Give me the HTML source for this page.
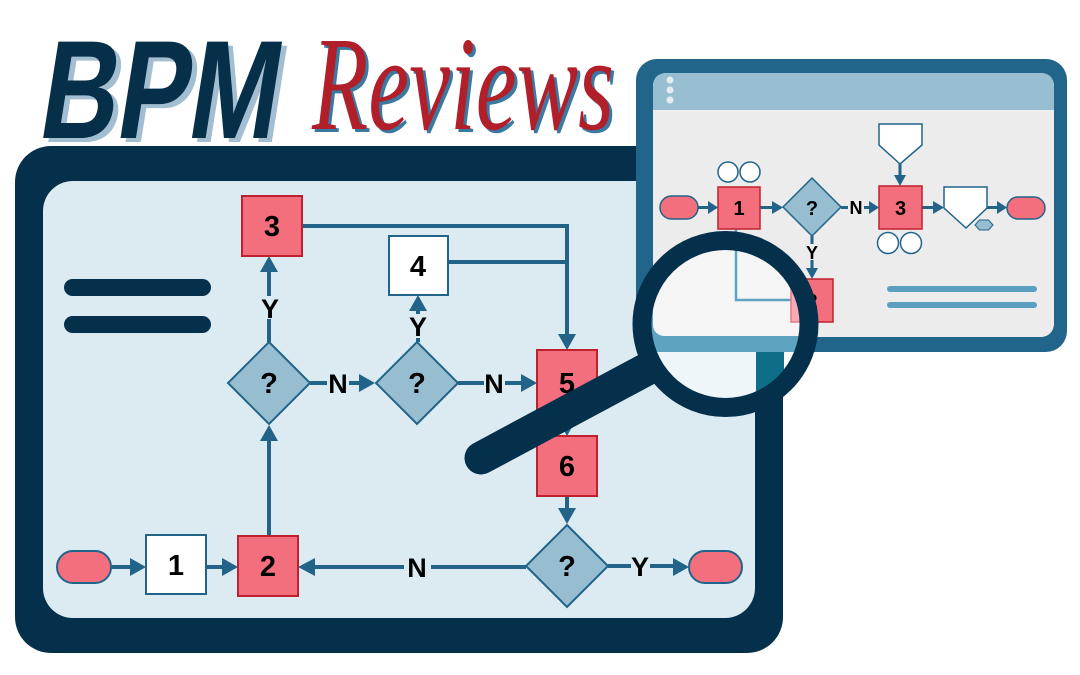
<!DOCTYPE html>
<html><head><meta charset="utf-8"><style>
html,body{margin:0;padding:0;background:#fff;}
svg{display:block;}
.b{font-family:"Liberation Sans",sans-serif;font-weight:bold;text-anchor:middle;fill:#000;}
.rv{font-family:"Liberation Serif",serif;font-style:italic;font-weight:normal;}
.bpm{font-family:"Liberation Sans",sans-serif;font-weight:bold;}
</style></head><body>
<svg width="1080" height="675" viewBox="0 0 1080 675" xmlns="http://www.w3.org/2000/svg">
<defs>
<clipPath id="lens"><circle cx="725.5" cy="324" r="75"/></clipPath>
</defs>
<rect width="1080" height="675" fill="#fff"/>

<!-- Title -->
<g transform="translate(41,142) skewX(-9)">
<text class="bpm" x="0" y="0" font-size="140" textLength="238" lengthAdjust="spacingAndGlyphs" fill="#a3bed0">BPM</text>
</g>
<g transform="translate(36,138) skewX(-9)">
<text class="bpm" x="0" y="0" font-size="140" textLength="238" lengthAdjust="spacingAndGlyphs" fill="#062f4a">BPM</text>
</g>
<g transform="translate(315,132) scale(1,1.12)">
<text class="rv" x="0" y="0" font-size="120" textLength="302" lengthAdjust="spacingAndGlyphs" fill="#3a7aa2">Reviews</text>
</g>
<g transform="translate(312,129) scale(1,1.12)">
<text class="rv" x="0" y="0" font-size="120" textLength="302" lengthAdjust="spacingAndGlyphs" fill="#b01f2a">Reviews</text>
</g>

<!-- Main monitor -->
<rect x="15" y="146" width="768" height="507" rx="36" fill="#05304b"/>
<rect x="43" y="181" width="712" height="437" rx="30" fill="#dcebf2"/>

<!-- menu bars -->
<rect x="64" y="279" width="147" height="17" rx="8.5" fill="#05304b"/>
<rect x="64" y="316" width="147" height="17" rx="8.5" fill="#05304b"/>

<!-- main connectors -->
<g stroke="#226489" stroke-width="4" fill="none">
<line x1="111" y1="567" x2="132" y2="567"/>
<line x1="206" y1="567" x2="224" y2="567"/>
<line x1="313" y1="567" x2="404" y2="567"/>
<line x1="431" y1="567" x2="526" y2="567"/>
<line x1="269" y1="536" x2="269" y2="439"/>
<line x1="269" y1="342" x2="269" y2="319"/>
<line x1="269" y1="296" x2="269" y2="270"/>
<line x1="310" y1="383" x2="327" y2="383"/>
<line x1="349" y1="383" x2="361" y2="383"/>
<line x1="418" y1="342" x2="418" y2="338"/>
<line x1="418" y1="314" x2="418" y2="309"/>
<path d="M302,226 H567 V336"/>
<line x1="448" y1="262" x2="567" y2="262"/>
<line x1="458" y1="383" x2="484" y2="383"/>
<line x1="505" y1="383" x2="523" y2="383"/>
<line x1="567" y1="410" x2="567" y2="422"/>
<line x1="567" y1="496" x2="567" y2="510"/>
<line x1="608" y1="566" x2="631" y2="566"/>
<line x1="650" y1="566" x2="675" y2="566"/>
</g>
<g fill="#226489">
<polygon points="130,558 146,567 130,576"/>
<polygon points="222,558 238,567 222,576"/>
<polygon points="315,558 298,567 315,576"/>
<polygon points="260,441 269,425 278,441"/>
<polygon points="260,272 269,256 278,272"/>
<polygon points="359,374 375,383 359,392"/>
<polygon points="409,311 418,295 427,311"/>
<polygon points="558,334 567,350 576,334"/>
<polygon points="521,374 537,383 521,392"/>
<polygon points="558,420 567,436 576,420"/>
<polygon points="558,508 567,524 576,508"/>
<polygon points="673,558 689,567 673,576"/>
</g>

<!-- main nodes -->
<rect x="57" y="551" width="54" height="32" rx="16" fill="#f46f7e" stroke="#226489" stroke-width="2"/>
<rect x="689" y="551" width="53" height="32" rx="16" fill="#f46f7e" stroke="#226489" stroke-width="2"/>
<rect x="146" y="535" width="60" height="59" fill="#fff" stroke="#226489" stroke-width="2"/>
<rect x="389" y="236" width="59" height="59" fill="#fff" stroke="#226489" stroke-width="2"/>
<g fill="#f46f7e" stroke="#c0202d" stroke-width="2">
<rect x="238" y="536" width="60" height="60"/>
<rect x="242" y="196" width="60" height="60"/>
<rect x="537" y="350" width="60" height="60"/>
<rect x="537" y="436" width="60" height="60"/>
</g>
<g fill="#97bdd1" stroke="#226489" stroke-width="2">
<polygon points="269,342 310,383 269,424 228,383"/>
<polygon points="417,342 458,383 417,424 376,383"/>
<polygon points="567,525 608,566 567,607 526,566"/>
</g>

<!-- main text -->
<g class="b" font-size="29">
<text class="b" x="176" y="575">1</text>
<text class="b" x="268" y="576">2</text>
<text class="b" x="272" y="236">3</text>
<text class="b" x="418" y="276">4</text>
<text class="b" x="567" y="393">5</text>
<text class="b" x="567" y="476">6</text>
<text class="b" x="269" y="393">?</text>
<text class="b" x="417" y="393">?</text>
<text class="b" x="567" y="576">?</text>
</g>
<g font-size="27">
<text class="b" font-size="27" x="270" y="318">Y</text>
<text class="b" font-size="27" x="418" y="336">Y</text>
<text class="b" font-size="27" x="338" y="393">N</text>
<text class="b" font-size="27" x="494" y="393">N</text>
<text class="b" font-size="27" x="417" y="577">N</text>
<text class="b" font-size="27" x="640" y="576">Y</text>
</g>

<!-- Small screen -->
<rect x="636" y="59" width="431" height="293" rx="21" fill="#22658a"/>
<rect x="653" y="73" width="401" height="264" rx="13" fill="#ececec"/>
<path d="M653,110 V87 Q653,73 667,73 H1040 Q1054,73 1054,87 V110 Z" fill="#98bed2"/>
<circle cx="670" cy="80" r="3.5" fill="#e6edf1"/>
<circle cx="670" cy="90" r="3.5" fill="#e6edf1"/>
<circle cx="670" cy="100" r="3.5" fill="#e6edf1"/>

<!-- small diagram connectors -->
<path d="M736,229 V300 H791" stroke="#5a9fc0" stroke-width="2.5" fill="none"/>
<g stroke="#226489" stroke-width="3" fill="none">
<line x1="698" y1="207.5" x2="709" y2="207.5"/>
<line x1="760" y1="207.5" x2="773" y2="207.5"/>
<line x1="841" y1="207.5" x2="848" y2="207.5"/>
<line x1="864" y1="207.5" x2="870" y2="207.5"/>
<line x1="922" y1="207.5" x2="934" y2="207.5"/>
<line x1="987" y1="207.5" x2="998" y2="207.5"/>
<line x1="900" y1="164" x2="900" y2="176"/>
<line x1="812" y1="236" x2="812" y2="244"/>
<line x1="812" y1="260" x2="812" y2="269"/>
</g>
<g fill="#226489">
<polygon points="708,201 718,207.5 708,214"/>
<polygon points="772,201 783,207.5 772,214"/>
<polygon points="869,201 879,207.5 869,214"/>
<polygon points="933,201 944,207.5 933,214"/>
<polygon points="997,201 1007,207.5 997,214"/>
<polygon points="894,175 900,186 906,175"/>
<polygon points="806,268 812,279 818,268"/>
</g>
<rect x="660" y="196" width="38" height="23" rx="11.5" fill="#f46f7e" stroke="#226489" stroke-width="1.5"/>
<rect x="1007" y="197" width="38" height="22" rx="11" fill="#f46f7e" stroke="#226489" stroke-width="1.5"/>
<g fill="#f46f7e" stroke="#c0202d" stroke-width="1.5">
<rect x="718" y="187" width="42" height="42"/>
<rect x="879" y="186" width="43" height="43"/>
<rect x="791" y="279" width="42" height="43"/>
</g>
<g fill="#fff" stroke="#226489" stroke-width="1.5">
<circle cx="728" cy="172" r="10"/>
<circle cx="750" cy="172" r="10"/>
<circle cx="888" cy="243" r="10.5"/>
<circle cx="911" cy="243" r="10.5"/>
<polygon points="879,124 922,124 922,145 900,164 879,145"/>
<polygon points="944,187 987,187 987,208 966,228 944,208"/>
</g>
<polygon points="812,178 841,207 812,236 783,207" fill="#97bdd1" stroke="#226489" stroke-width="1.5"/>
<polygon points="975,225 979.5,220 988.5,220 993,225 988.5,230 979.5,230" fill="#97bdd1" stroke="#226489" stroke-width="1"/>
<text class="b" font-size="20" x="739" y="215">1</text>
<text class="b" font-size="20" x="812" y="215">?</text>
<text class="b" font-size="20" x="900.5" y="215">3</text>
<text class="b" font-size="20" x="812" y="308">2</text>
<text class="b" font-size="18" x="856" y="214">N</text>
<text class="b" font-size="18" x="812" y="259">Y</text>
<line x1="890" y1="289" x2="1034" y2="289" stroke="#5a9fc0" stroke-width="6" stroke-linecap="round"/>
<line x1="890" y1="305" x2="1034" y2="305" stroke="#5a9fc0" stroke-width="6" stroke-linecap="round"/>

<!-- Magnifier handle -->
<line x1="481" y1="458" x2="662" y2="361" stroke="#05304b" stroke-width="33" stroke-linecap="round"/>

<!-- Lens interior -->
<g clip-path="url(#lens)">
<rect x="600" y="240" width="260" height="200" fill="#eef6f9"/>
<rect x="784" y="352" width="100" height="100" fill="#fff"/>
<rect x="756" y="352" width="28" height="100" fill="#0e6e87"/>
<rect x="636" y="59" width="431" height="293" rx="21" fill="#5ea3bf"/>
<rect x="653" y="73" width="401" height="263" rx="11" fill="#f5f5f5"/>
<path d="M736,229 V300 H791" stroke="#5ea3bf" stroke-width="2.5" fill="none"/>
<rect x="791" y="279" width="42" height="43" fill="#f8a9b3" stroke="#e47a86" stroke-width="1.5"/>
</g>
<circle cx="725.5" cy="324" r="83.5" fill="none" stroke="#05304b" stroke-width="19"/>
</svg>
</body></html>
